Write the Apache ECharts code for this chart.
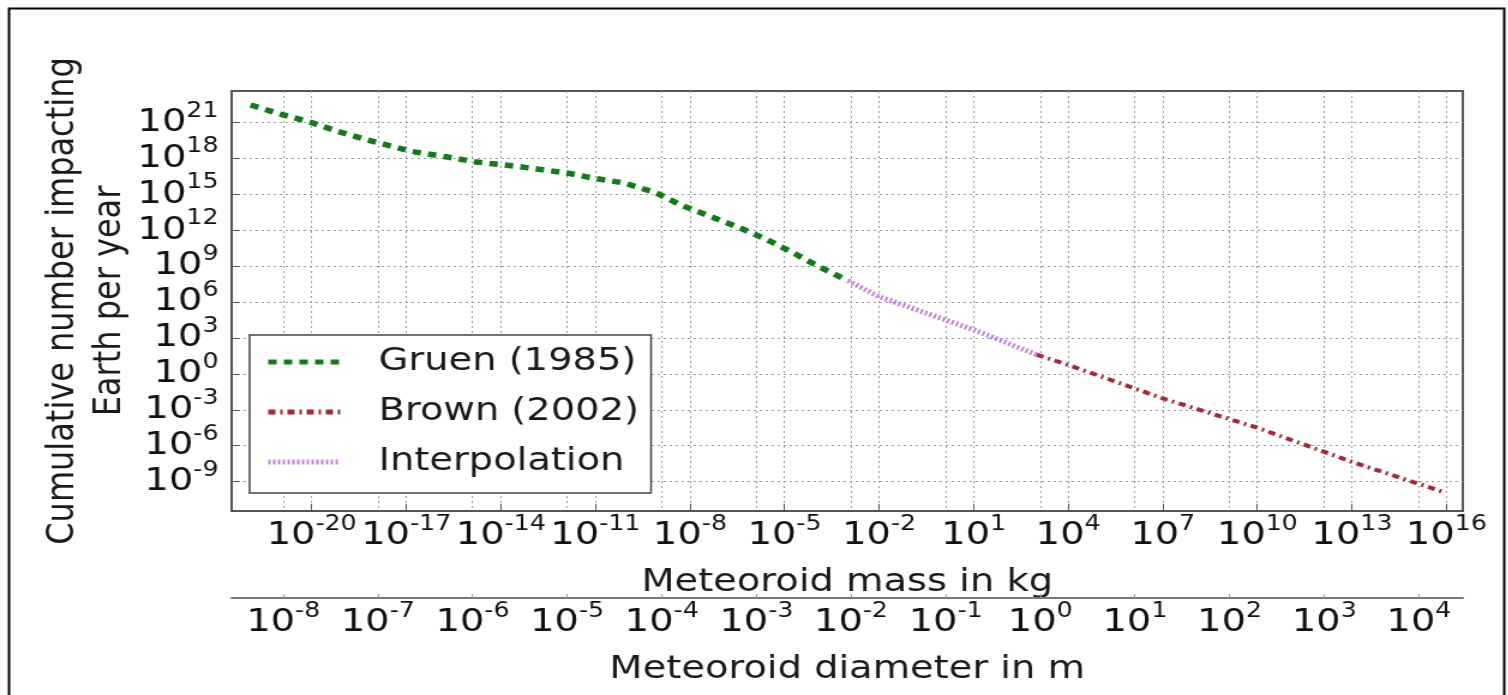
<!DOCTYPE html>
<html>
<head>
<meta charset="utf-8">
<title>Meteoroid flux</title>
<script src="https://cdn.jsdelivr.net/npm/echarts@6.0.0/dist/echarts.min.js"></script>
<style>
  html, body { margin: 0; padding: 0; background: #fff; overflow: hidden; }
  /* the source figure is stretched sideways, so the chart is drawn narrow and widened */
  #main { width: 1257px; height: 695px; transform: scaleX(1.2); transform-origin: 0 0; }
</style>
</head>
<body>
<div id="main"></div>
<script>
// all values are log10: mass in kg, cumulative impacts per year
const gruenLogMass = [-21.94, -20.97, -20.0, -19.16, -18.25, -16.83, -15.8, -14.76, -13.47, -11.91, -11.0, -10.1, -9.07, -8.28, -7.39, -6.48, -5.58, -4.74, -3.9, -2.99];
const gruenLogFlux = [22.47, 21.69, 21.0, 20.25, 19.56, 18.59, 18.17, 17.7, 17.34, 16.79, 16.32, 15.96, 15.13, 14.1, 13.19, 12.27, 11.25, 10.14, 8.95, 7.79];

const interpLogMass = [-2.99, -2.0, 1.0, 3.0];
const interpLogFlux = [7.79, 6.45, 3.69, 1.6];

const brownLogMass = [3.0, 4.0, 7.0, 10.0, 13.0, 15.88];
const brownLogFlux = [1.6, 0.75, -2.05, -4.5, -7.35, -9.85];

const massTicks = [-20, -17, -14, -11, -8, -5, -2, 1, 4, 7, 10, 13, 16];
const diamTicks = [-8, -7, -6, -5, -4, -3, -2, -1, 0, 1, 2, 3, 4];
const fluxTicks = [-9, -6, -3, 0, 3, 6, 9, 12, 15, 18, 21];

const FONT = "DejaVu Sans";
const gridLine = { color: "#9a9a9a", width: 1, type: [2, 3] };
const FLUX_MIN = -11.46;
const FLUX_MAX = 23.64;

function pairs(xs, ys) {
  return xs.map((x, i) => [x, ys[i]]);
}
function powLabel(v) {
  return "{b|10}{s|" + Math.round(v) + "}";
}
const powRich = {
  b: { fontSize: 32, lineHeight: 4, fontFamily: FONT, color: "#111" },
  s: { fontSize: 21, lineHeight: 4, fontFamily: FONT, color: "#111", padding: [0, 0, 23, 0] }
};
// y labels are split over two stacked axes, otherwise echarts drops neighbours it thinks overlap
const fluxLabelsA = fluxTicks.filter((v, i) => i % 2 === 0);
const fluxLabelsB = fluxTicks.filter((v, i) => i % 2 === 1);

const chart = echarts.init(document.getElementById("main"));
chart.setOption({
  animation: false,
  backgroundColor: "#fff",
  textStyle: { fontFamily: FONT },
  grid: { left: 193, top: 91, width: 1026, height: 420, show: true, borderColor: "#555", borderWidth: 2, containLabel: false },
  legend: {
    left: 208,
    top: 335,
    orient: "vertical",
    padding: [11, 10, 15, 13],
    itemGap: 18,
    itemWidth: 60,
    itemHeight: 14,
    backgroundColor: "#fff",
    borderColor: "#444",
    borderWidth: 1.5,
    borderRadius: 0,
    itemStyle: { opacity: 0 },
    lineStyle: { width: 5 },
    textStyle: { fontSize: 32, lineHeight: 32, color: "#1a1a1a", fontFamily: FONT, padding: [0, 0, 0, 27] },
    data: ["Gruen (1985)", "Brown (2002)", "Interpolation"]
  },
  xAxis: [
    {
      type: "value",
      min: -22.54,
      max: 16.52,
      position: "bottom",
      name: "Meteoroid mass in kg",
      nameLocation: "middle",
      nameGap: 56,
      nameMoveOverlap: false,
      nameTextStyle: { fontSize: 32, color: "#1a1a1a", fontFamily: FONT },
      axisLine: { show: true, onZero: false, lineStyle: { color: "#555", width: 2 } },
      axisTick: { show: true, inside: true, length: 7, customValues: massTicks, lineStyle: { color: "#555" } },
      axisLabel: { customValues: massTicks, margin: 23, hideOverlap: false, showMinLabel: true, showMaxLabel: true, formatter: powLabel, rich: powRich },
      splitLine: { show: true, lineStyle: gridLine }
    },
    {
      type: "value",
      min: -8.545,
      max: 4.465,
      position: "bottom",
      offset: 87,
      name: "Meteoroid diameter in m",
      nameLocation: "middle",
      nameGap: 56,
      nameMoveOverlap: false,
      nameTextStyle: { fontSize: 32, color: "#1a1a1a", fontFamily: FONT },
      axisLine: { show: true, onZero: false, lineStyle: { color: "#777", width: 2 } },
      axisTick: { show: true, inside: true, length: 4, customValues: diamTicks, lineStyle: { color: "#999" } },
      axisLabel: { customValues: diamTicks, margin: 23, hideOverlap: false, showMinLabel: true, showMaxLabel: true, formatter: powLabel, rich: powRich },
      splitLine: { show: true, lineStyle: gridLine }
    }
  ],
  yAxis: [
    {
      type: "value",
      min: FLUX_MIN,
      max: FLUX_MAX,
      position: "left",
      name: "Cumulative number impacting\nEarth per year",
      nameLocation: "middle",
      nameRotate: 90,
      nameGap: 82,
      nameMoveOverlap: false,
      nameTextStyle: { fontSize: 32, lineHeight: 39, color: "#1a1a1a", fontFamily: FONT },
      axisLine: { show: true, onZero: false, lineStyle: { color: "#555", width: 2 } },
      axisTick: { show: true, inside: true, length: 7, customValues: fluxTicks, lineStyle: { color: "#555" } },
      axisLabel: { customValues: fluxLabelsA, margin: 11, showMinLabel: true, showMaxLabel: true, formatter: powLabel, rich: powRich },
      splitLine: { show: true, lineStyle: gridLine }
    },
    {
      type: "value",
      min: FLUX_MIN,
      max: FLUX_MAX,
      position: "left",
      axisLine: { show: false, onZero: false },
      axisTick: { show: false },
      axisLabel: { customValues: fluxLabelsB, margin: 11, showMinLabel: true, showMaxLabel: true, formatter: powLabel, rich: powRich },
      splitLine: { show: false }
    }
  ],
  graphic: [
    {
      type: "rect",
      left: 5,
      top: 6,
      shape: { width: 1246, height: 720 },
      style: { fill: "none", stroke: "#000", lineWidth: 2 },
      silent: true,
      z: 100
    }
  ],
  series: [
    {
      name: "Gruen (1985)",
      type: "line",
      xAxisIndex: 0,
      yAxisIndex: 0,
      showSymbol: false,
      data: pairs(gruenLogMass, gruenLogFlux),
      lineStyle: { color: "#137a17", width: 5.5, type: [7, 6] },
      itemStyle: { color: "#137a17" }
    },
    {
      name: "Brown (2002)",
      type: "line",
      xAxisIndex: 0,
      yAxisIndex: 0,
      showSymbol: false,
      data: pairs(brownLogMass, brownLogFlux),
      lineStyle: { color: "#a3283a", width: 4, type: [6, 4, 2, 4] },
      itemStyle: { color: "#a3283a" }
    },
    {
      name: "Interpolation",
      type: "line",
      xAxisIndex: 0,
      yAxisIndex: 0,
      showSymbol: false,
      data: pairs(interpLogMass, interpLogFlux),
      lineStyle: { color: "#c684d8", width: 5, type: [2, 2] },
      itemStyle: { color: "#c684d8" }
    }
  ]
});
</script>
</body>
</html>
